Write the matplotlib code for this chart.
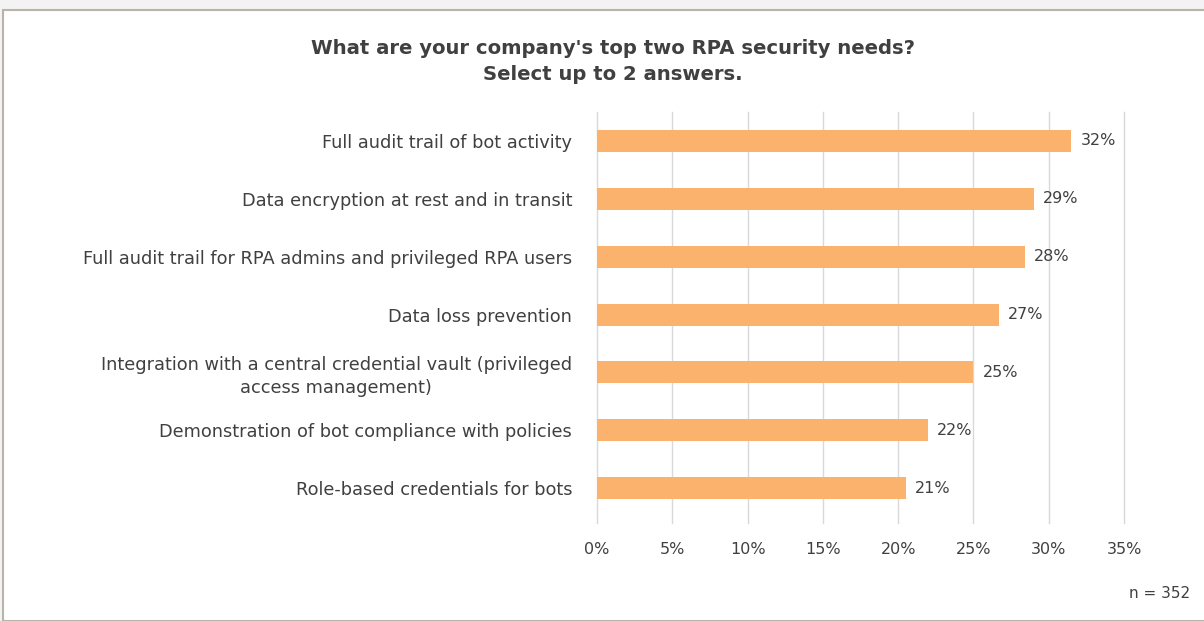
import matplotlib.pyplot as plt
from matplotlib.patches import Rectangle
from matplotlib.ticker import PercentFormatter

categories = ['Full audit trail of bot activity',
              'Data encryption at rest and in transit',
              'Full audit trail for RPA admins and privileged RPA users',
              'Data loss prevention',
              'Integration with a central credential vault (privileged\naccess management)',
              'Demonstration of bot compliance with policies',
              'Role-based credentials for bots']
values = [31.5, 29.0, 28.4, 26.7, 25.0, 22.0, 20.5]
labels = ['32%', '29%', '28%', '27%', '25%', '22%', '21%']
xticks = [0, 5, 10, 15, 20, 25, 30, 35]

W, H = 1204, 621
fig = plt.figure(figsize=(W / 100, H / 100), dpi=100)
fig.patch.set_facecolor('#f3f3f3')
# white chart frame
fig.patches.append(Rectangle((3 / W, 0), 1.1, 1 - 10 / H, transform=fig.transFigure,
                             facecolor='white', edgecolor='#b8b4aa', lw=1.5, zorder=-5))

ax = fig.add_axes([597 / W, 1 - 523 / H, (1124 - 597) / W, (523 - 112) / H])
ax.set_facecolor('none')

txt = '#404040'
y = range(len(categories))
ax.barh(y, values, height=0.38, color='#fbb26d', zorder=3)
for i, (v, l) in enumerate(zip(values, labels)):
    ax.text(v + 0.6, i, l, va='center', ha='left', fontsize=11.5, color=txt)

ax.set_xlim(0, 35)
ax.set_ylim(6.6, -0.5)
ax.set_xticks(xticks)
ax.xaxis.set_major_formatter(PercentFormatter(decimals=0))
ax.set_yticks(list(y))
ax.set_yticklabels(categories, fontsize=12.8, color=txt, linespacing=1.3)
ax.tick_params(axis='y', length=0, pad=18)
ax.tick_params(axis='x', length=0, pad=14, labelsize=11.5, labelcolor=txt)
for lab in ax.get_yticklabels():
    lab.set_multialignment('center')
ax.grid(axis='x', color='#d9d9d9', lw=1, zorder=0)
for gl in ax.get_xgridlines():
    gl.set_clip_on(False)
for s in ax.spines.values():
    s.set_visible(False)

fig.text(613 / W, 1 - 48 / H, "What are your company's top two RPA security needs?",
         ha='center', va='center', fontsize=14.1, fontweight='bold', color=txt)
fig.text(613 / W, 1 - 75 / H, 'Select up to 2 answers.',
         ha='center', va='center', fontsize=14.1, fontweight='bold', color=txt)
fig.text(1190 / W, 1 - 594 / H, 'n = 352', ha='right', va='center',
         fontsize=11, color=txt)

fig.savefig('out.png', dpi=100)
